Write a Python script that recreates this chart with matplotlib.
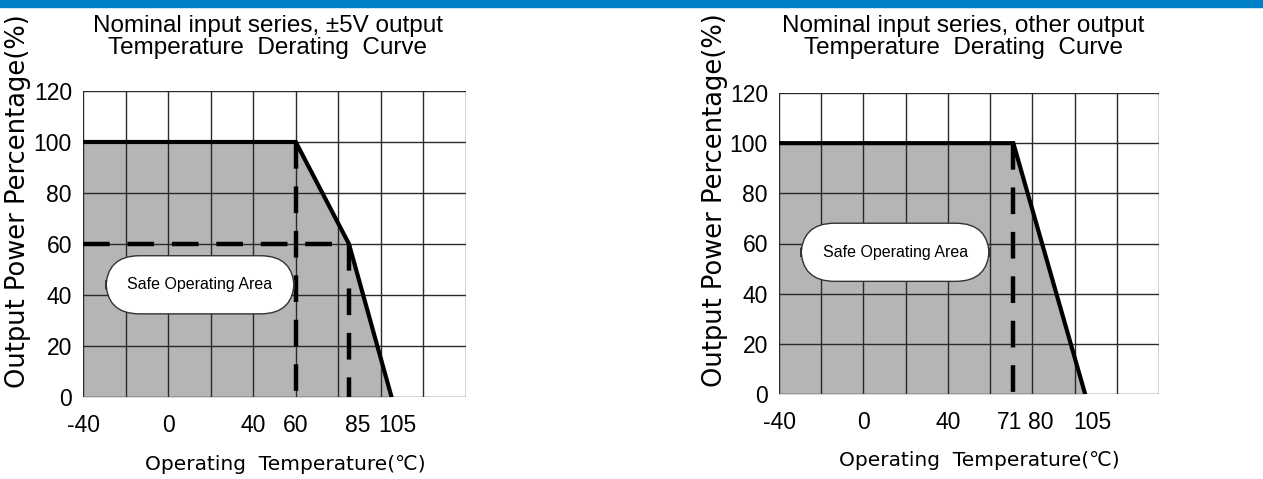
import matplotlib.pyplot as plt
from matplotlib.patches import Rectangle
from matplotlib.transforms import ScaledTranslation

# left chart: +-5V output
left_x = [-40, 60, 85, 105]
left_y = [100, 100, 60, 0]
left_ticks = [-40, 0, 40, 60, 85, 105]
left_title = ['Nominal input series, \u00b15V output', 'Temperature  Derating  Curve']

# right chart: other output
right_x = [-40, 71, 105]
right_y = [100, 100, 0]
right_ticks = [-40, 0, 40, 71, 80, 105]
right_title = ['Nominal input series, other output', 'Temperature  Derating  Curve']

grid_x = [-40, -20, 0, 20, 40, 60, 80, 100, 120, 140]
grid_y = [0, 20, 40, 60, 80, 100, 120]

FONT = ['Liberation Sans', 'DejaVu Sans']
WIDE = ['DejaVu Sans']
plt.rcParams['font.family'] = FONT

fig = plt.figure(figsize=(12.63, 4.79), dpi=100)
fig.patches.append(Rectangle((0, 1 - 7 / 479), 1, 7 / 479, transform=fig.transFigure,
                             color='#0080c8', zorder=10))


def draw_panel(ax, xs, ys, ticks, title, title_x, dashed, label_xy, box_xy, nudges):
    ax.set_xlim(grid_x[0], grid_x[-1])
    ax.set_ylim(grid_y[0], grid_y[-1])
    for g in grid_x:
        ax.axvline(g, color='#2a2a2a', lw=1.0, zorder=2)
    for g in grid_y:
        ax.axhline(g, color='#2a2a2a', lw=1.0, zorder=2)
    ax.fill_between(xs, ys, 0, color='#b5b5b5', lw=0, zorder=1)
    ax.plot(xs, ys, color='black', lw=3, zorder=4, solid_joinstyle='miter')
    for (x0, x1), (y0, y1) in dashed:
        ax.plot([x0, x1], [y0, y1], color='black', lw=3.2, dashes=(6, 4), zorder=3)

    ax.set_xticks(ticks)
    ax.set_xticklabels([str(t) for t in ticks])
    ax.set_yticks(grid_y)
    ax.tick_params(length=0, labelsize=16.5)
    ax.tick_params(axis='x', pad=12)
    ax.tick_params(axis='y', pad=8)
    for lab in ax.get_xticklabels():
        dx = nudges.get(lab.get_text(), 0)
        if dx:
            lab.set_transform(lab.get_transform() + ScaledTranslation(dx / 100, 0, fig.dpi_scale_trans))
    for s in ax.spines.values():
        s.set_visible(False)

    ax.set_xlabel('Operating  Temperature(\u2103)', fontsize=14.5, family=WIDE)
    ax.xaxis.set_label_coords(0.527, -0.19)
    ax.set_ylabel('Output Power Percentage(%)', fontsize=18.5, family=WIDE)
    ax.yaxis.set_label_coords(label_xy[0], label_xy[1])

    fig.text(title_x, 1 - 26 / 479, title[0], ha='center', va='center', fontsize=17.5)
    fig.text(title_x, 1 - 48 / 479, title[1], ha='center', va='center', fontsize=17.5)

    ax.text(box_xy[0], box_xy[1], 'Safe Operating Area', ha='center', va='center',
            fontsize=11.5, zorder=6,
            bbox=dict(boxstyle='round,pad=1.35,rounding_size=2.1', fc='white',
                      ec='#333333', lw=1.0))


ax1 = fig.add_axes([83 / 1263, 1 - 397 / 479, 383 / 1263, 306 / 479])
draw_panel(ax1, left_x, left_y, left_ticks, left_title, 268 / 1263,
           [((-40, 85), (60, 60)), ((60, 60), (100, 0)), ((85, 85), (60, 0))],
           (-0.135, 0.64), (15, 44), {'85': 9, '105': 6})

ax2 = fig.add_axes([779 / 1263, 1 - 394 / 479, 380 / 1263, 301 / 479])
draw_panel(ax2, right_x, right_y, right_ticks, right_title, 963 / 1263,
           [((71, 71), (100, 0))],
           (-0.135, 0.645), (15, 56.5), {'71': -4, '80': 8, '105': 7})

fig.savefig('out.png', dpi=100)
